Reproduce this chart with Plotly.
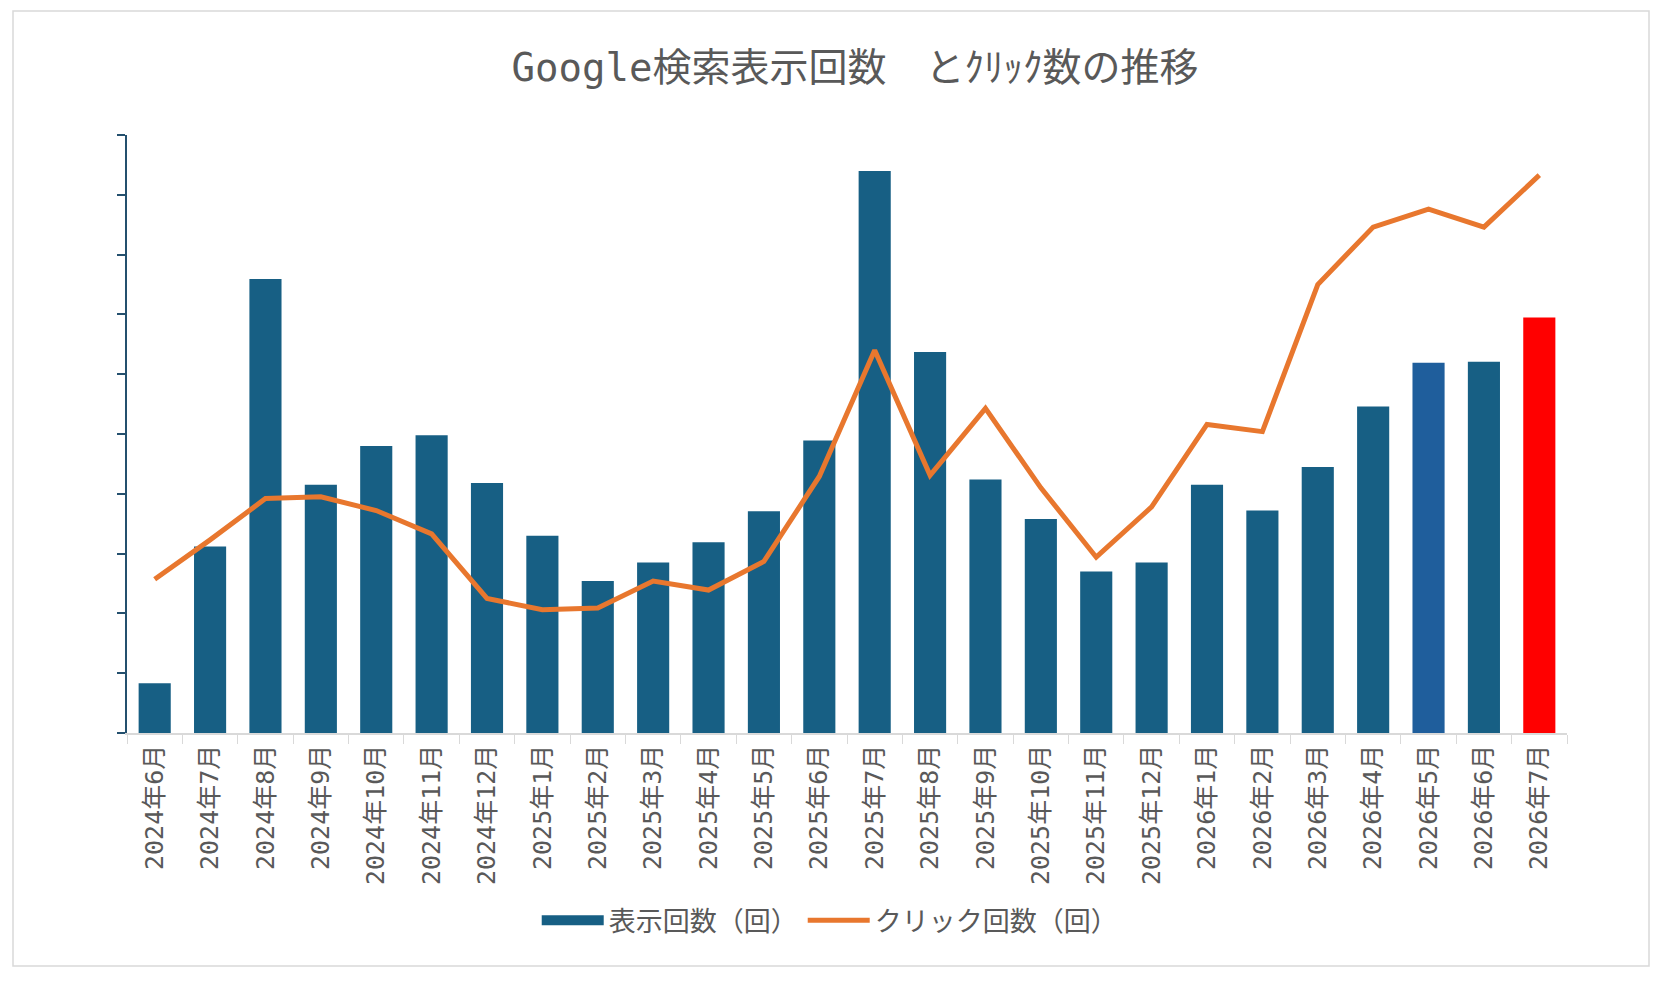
import plotly.graph_objects as go

# 月ラベル
months = [
    "2024年6月", "2024年7月", "2024年8月", "2024年9月", "2024年10月", "2024年11月",
    "2024年12月", "2025年1月", "2025年2月", "2025年3月", "2025年4月", "2025年5月",
    "2025年6月", "2025年7月", "2025年8月", "2025年9月", "2025年10月", "2025年11月",
    "2025年12月", "2026年1月", "2026年2月", "2026年3月", "2026年4月", "2026年5月",
    "2026年6月", "2026年7月",
]

# 表示回数 (目盛り単位)
impressions = [
    0.83, 3.12, 7.59, 4.15, 4.80, 4.98, 4.18, 3.30, 2.54, 2.85, 3.19, 3.71, 4.89,
    9.40, 6.37, 4.24, 3.58, 2.70, 2.85, 4.15, 3.72, 4.45, 5.46, 6.19, 6.21, 6.95,
]

# クリック回数 (目盛り単位)
clicks = [
    2.57, 3.23, 3.92, 3.95, 3.72, 3.33, 2.25, 2.06, 2.09, 2.54, 2.39, 2.87, 4.29,
    6.40, 4.31, 5.43, 4.10, 2.94, 3.78, 5.16, 5.04, 7.50, 8.46, 8.76, 8.46, 9.33,
]

BAR = "#175F84"
bar_colors = [BAR] * len(months)
bar_colors[23] = "#1F5E9C"   # 2026年5月
bar_colors[25] = "#FF0000"   # 最新月は赤

TEXT = "#595959"
MONO = "DejaVu Sans Mono, Noto Sans CJK JP"

# page has 8px body margin, so the figure is 8px smaller and shifted
W, H = 1652, 979
L, T, PW, PH = 119, 127, 1440, 598

fig = go.Figure()
fig.add_trace(go.Bar(
    x=months, y=impressions, name="表示回数（回）", showlegend=False,
    marker=dict(color=bar_colors, line=dict(width=0)),
))
# legend entry drawn as a wide block like the Excel legend
fig.add_trace(go.Scatter(
    x=[None], y=[None], name="表示回数（回）", mode="lines",
    line=dict(color=BAR, width=14), hoverinfo="skip",
))
fig.add_trace(go.Scatter(
    x=months, y=clicks, name="クリック回数（回）", mode="lines",
    line=dict(color="#E8772E", width=5),
))

fig.update_layout(
    width=W, height=H,
    paper_bgcolor="white", plot_bgcolor="white",
    margin=dict(l=L, r=W - L - PW, t=T, b=H - T - PH),
    bargap=0.42,
    title=dict(
        text="Google検索表示回数　とｸﾘｯｸ数の推移",
        x=847 / W, xanchor="center", y=1 - 59 / H, yanchor="middle",
        font=dict(family=MONO, size=39, color=TEXT),
    ),
    legend=dict(
        orientation="h", x=0.488, xanchor="center", y=-0.314, yanchor="middle",
        font=dict(family="Noto Sans CJK JP", size=27, color=TEXT),
        itemwidth=62, traceorder="normal",
    ),
    shapes=[dict(
        type="rect", xref="paper", yref="paper",
        x0=(5 - L) / PW, x1=(1641 - L) / PW,
        y0=(T + PH - 958) / PH, y1=(T + PH - 3) / PH,
        line=dict(color="#D9D9D9", width=1.5),
    )],
)

fig.update_xaxes(
    type="category", tickson="boundaries", ticks="outside", ticklen=9,
    tickcolor="#D9D9D9", showline=True, linecolor="#D9D9D9", linewidth=1.5,
    tickangle=-90, tickfont=dict(family=MONO, size=25, color=TEXT),
    showgrid=False,
)
fig.update_yaxes(
    range=[0, 10], dtick=1, showticklabels=False, ticks="outside", ticklen=8,
    tickcolor="#24506E", tickwidth=1.5, showline=True, linecolor="#24506E",
    linewidth=1.5, showgrid=False, zeroline=False,
)

fig.write_html("out.html")
